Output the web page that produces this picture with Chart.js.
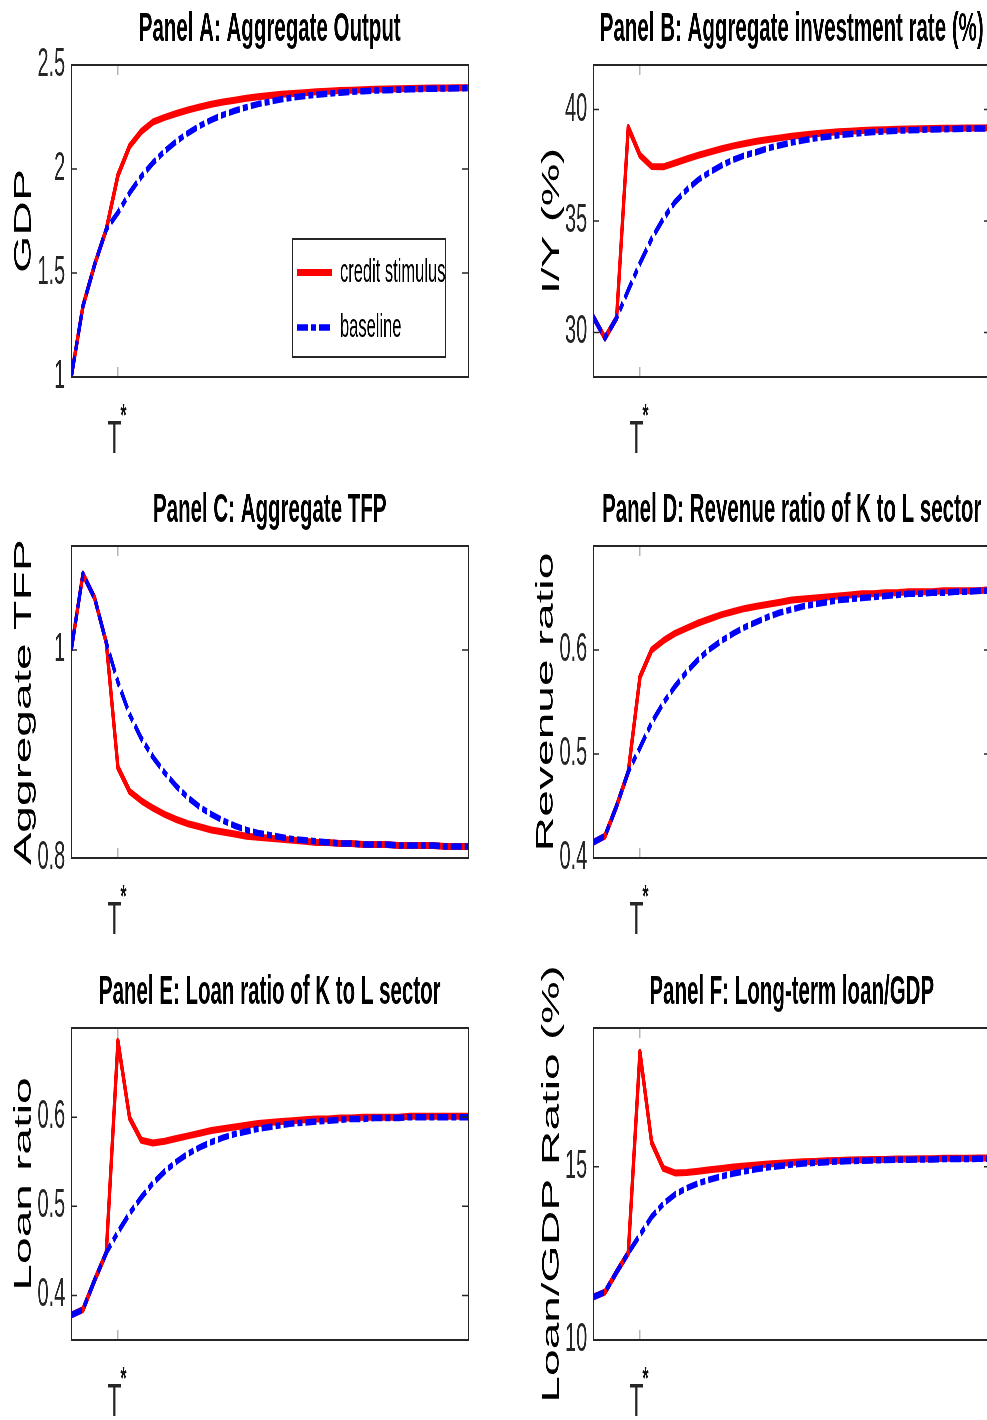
<!DOCTYPE html>
<html lang="en">

<head>
    <meta charset="UTF-8">
    <title>Credit stimulus vs baseline</title>
    <style>
        html,
        body {
            margin: 0;
            padding: 0;
            background: #fff;
            overflow: hidden;
        }

        /* the original figure is squeezed horizontally, so draw wide and squeeze */
        #fig {
            position: relative;
            width: 1974px;
            height: 1420px;
            overflow: hidden;
            transform: scaleX(0.5);
            transform-origin: 0 0;
        }

        #fig canvas {
            position: absolute;
        }
    </style>
</head>

<body>
    <div id="fig">
        <canvas id="panelA" width="987" height="480" style="left:0px;top:0px"></canvas>
        <canvas id="panelB" width="1000" height="480" style="left:987px;top:0px"></canvas>
        <canvas id="panelC" width="987" height="480" style="left:0px;top:481px"></canvas>
        <canvas id="panelD" width="1000" height="480" style="left:987px;top:481px"></canvas>
        <canvas id="panelE" width="987" height="480" style="left:0px;top:963px"></canvas>
        <canvas id="panelF" width="1000" height="480" style="left:987px;top:963px"></canvas>
    </div>
</body>

</html>
<script src="https://cdn.jsdelivr.net/npm/chart.js"></script>
<script>

    // periods and the stimulus date T*
    const periods = [1, 2, 3, 4, 5, 6, 7, 8, 9, 10, 11, 12, 13, 14, 15, 16, 17, 18, 19, 20,
        21, 22, 23, 24, 25, 26, 27, 28, 29, 30, 31, 32, 33, 34, 35];
    const tStar = 5;

    // Panel A: GDP
    const creditA = [1.00, 1.34, 1.54, 1.71, 1.97, 2.11, 2.18, 2.226, 2.248, 2.267, 2.284, 2.298, 2.311, 2.322, 2.331, 2.34, 2.347, 2.353,
        2.359, 2.363, 2.367, 2.371, 2.374, 2.377, 2.379, 2.381, 2.383, 2.385, 2.386, 2.387, 2.388, 2.389, 2.39, 2.391, 2.391];
    const baseA = [1.00, 1.34, 1.54, 1.71, 1.79, 1.885, 1.964, 2.03, 2.086, 2.133, 2.173, 2.207, 2.236, 2.26, 2.28, 2.297, 2.312, 2.324,
        2.335, 2.344, 2.351, 2.357, 2.362, 2.367, 2.371, 2.374, 2.377, 2.379, 2.381, 2.383, 2.385, 2.386, 2.387, 2.388, 2.389];
    const yTicksA = [1, 1.5, 2, 2.5];

    // Panel B: investment rate
    const creditB = [30.7, 29.75, 30.65, 39.2, 37.95, 37.45, 37.43, 37.6, 37.78, 37.95, 38.1, 38.24, 38.37, 38.48, 38.58, 38.66, 38.73, 38.8,
        38.86, 38.91, 38.96, 39.0, 39.03, 39.06, 39.08, 39.1, 39.12, 39.13, 39.14, 39.15, 39.16, 39.16, 39.17, 39.17, 39.18];
    const baseB = [30.7, 29.75, 30.65, 31.9, 33.1, 34.2, 35.1, 35.85, 36.4, 36.85, 37.2, 37.5, 37.75, 37.95, 38.1, 38.27, 38.4, 38.52,
        38.62, 38.71, 38.78, 38.85, 38.9, 38.95, 38.99, 39.02, 39.05, 39.07, 39.09, 39.11, 39.12, 39.13, 39.14, 39.15, 39.16];
    const yTicksB = [30, 35, 40];

    // Panel C: TFP
    const creditC = [1.0, 1.073, 1.05, 1.007, 0.887, 0.864, 0.855, 0.848, 0.842, 0.837, 0.833, 0.83, 0.827, 0.825, 0.823, 0.821, 0.82, 0.819,
        0.818, 0.817, 0.816, 0.815, 0.815, 0.814, 0.814, 0.813, 0.813, 0.813, 0.812, 0.812, 0.812, 0.812, 0.811, 0.811, 0.811];
    const baseC = [1.0, 1.073, 1.05, 1.007, 0.969, 0.938, 0.915, 0.897, 0.882, 0.869, 0.858, 0.849, 0.842, 0.836, 0.831, 0.827, 0.824, 0.822,
        0.82, 0.818, 0.817, 0.816, 0.815, 0.814, 0.814, 0.813, 0.813, 0.813, 0.812, 0.812, 0.812, 0.812, 0.811, 0.811, 0.811];
    const yTicksC = [0.8, 1];

    // Panel D: revenue ratio
    const creditD = [0.415, 0.421, 0.45, 0.483, 0.574, 0.6, 0.609, 0.616, 0.621, 0.626, 0.63, 0.634, 0.637, 0.64, 0.642, 0.644, 0.646, 0.648,
        0.649, 0.65, 0.651, 0.652, 0.653, 0.654, 0.654, 0.655, 0.655, 0.656, 0.656, 0.656, 0.657, 0.657, 0.657, 0.657, 0.658];
    const baseD = [0.415, 0.421, 0.45, 0.483, 0.506, 0.53, 0.549, 0.565, 0.579, 0.591, 0.601, 0.609, 0.616, 0.622, 0.627, 0.632, 0.636, 0.639,
        0.642, 0.644, 0.646, 0.648, 0.649, 0.65, 0.651, 0.652, 0.653, 0.654, 0.654, 0.655, 0.655, 0.656, 0.656, 0.657, 0.657];
    const yTicksD = [0.4, 0.5, 0.6];

    // Panel E: loan ratio
    const creditE = [0.378, 0.384, 0.417, 0.448, 0.685, 0.599, 0.574, 0.571, 0.573, 0.576, 0.579, 0.582, 0.585, 0.587, 0.589, 0.591, 0.593, 0.594,
        0.595, 0.596, 0.597, 0.598, 0.598, 0.599, 0.599, 0.6, 0.6, 0.6, 0.6, 0.601, 0.601, 0.601, 0.601, 0.601, 0.601];
    const baseE = [0.378, 0.384, 0.417, 0.448, 0.471, 0.492, 0.51, 0.526, 0.539, 0.55, 0.559, 0.566, 0.572, 0.577, 0.581, 0.584, 0.587, 0.589,
        0.591, 0.593, 0.594, 0.595, 0.596, 0.597, 0.598, 0.598, 0.599, 0.599, 0.599, 0.6, 0.6, 0.6, 0.6, 0.6, 0.6];
    const yTicksE = [0.4, 0.5, 0.6];

    // Panel F: long-term loan / GDP
    const creditF = [11.24, 11.38, 11.96, 12.51, 18.3, 15.7, 14.95, 14.82, 14.83, 14.87, 14.91, 14.95, 14.99, 15.02, 15.05, 15.08, 15.1, 15.12,
        15.14, 15.15, 15.17, 15.18, 15.19, 15.2, 15.21, 15.21, 15.22, 15.22, 15.23, 15.23, 15.24, 15.24, 15.24, 15.25, 15.25];
    const baseF = [11.24, 11.38, 11.96, 12.51, 13.03, 13.55, 13.93, 14.2, 14.38, 14.52, 14.63, 14.72, 14.8, 14.87, 14.93, 14.98, 15.02, 15.06,
        15.09, 15.11, 15.13, 15.15, 15.16, 15.17, 15.18, 15.19, 15.2, 15.2, 15.21, 15.21, 15.22, 15.22, 15.22, 15.23, 15.23];
    const yTicksF = [10, 15];

    const family = "'Liberation Sans', Arial, Helvetica, sans-serif";
    const axisGray = '#262626';

    // box around the axes, inward ticks, legend frame
    const boxPlugin = {
        id: 'matlabBox',
        afterLayout(chart) {
            const lg = chart.legend;
            if (!lg || !lg.options.display) return;
            const a = chart.chartArea;
            lg.left = a.left + 429;
            lg.right = lg.left + lg.width;
            lg.top = a.top + 169;
            lg.bottom = lg.top + lg.height;
        },
        afterDatasetsDraw(chart) {
            const { ctx, chartArea: a, scales } = chart;
            ctx.save();
            ctx.strokeStyle = axisGray;
            ctx.lineWidth = 1.5;
            ctx.beginPath();
            scales.y.ticks.forEach(t => {
                const py = scales.y.getPixelForValue(t.value);
                ctx.moveTo(a.left, py);
                ctx.lineTo(a.left + 12, py);
                ctx.moveTo(a.right, py);
                ctx.lineTo(a.right - 12, py);
            });
            const px = scales.x.getPixelForValue(tStar);
            ctx.moveTo(px, a.top);
            ctx.lineTo(px, a.top + 10);
            ctx.moveTo(px, a.bottom);
            ctx.lineTo(px, a.bottom - 10);
            ctx.stroke();
            ctx.lineWidth = 2;
            ctx.strokeRect(a.left, a.top, a.right - a.left, a.bottom - a.top);
            if (chart.legend && chart.legend.options.display) {
                ctx.strokeRect(a.left + 442, a.top + 174, 306, 118);
            }
            ctx.restore();
        }
    };

    function legendLabels(chart) {
        const items = Chart.defaults.plugins.legend.labels.generateLabels(chart);
        return items.map(item => {
            const ds = chart.data.datasets[item.datasetIndex];
            item.lineWidth = ds.borderWidth;
            item.lineDash = ds.borderDash || [];
            item.pointStyle = 'line';
            return item;
        });
    }

    function makePanel(id, p) {
        new Chart(document.getElementById(id), {
            type: 'line',
            data: {
                labels: periods,
                datasets: [{
                    label: 'credit stimulus',
                    data: p.credit,
                    borderColor: '#ff0000',
                    borderWidth: 7,
                    order: 1
                }, {
                    label: 'baseline',
                    data: p.base,
                    borderColor: '#0000ff',
                    borderWidth: 6.5,
                    borderDash: [22, 6, 10, 6],
                    order: 0
                }]
            },
            options: {
                responsive: false,
                animation: false,
                events: [],
                layout: {
                    autoPadding: false,
                    padding: { left: 0, right: p.padRight, top: 0, bottom: 10 }
                },
                elements: {
                    point: { radius: 0 },
                    line: { tension: 0, fill: false, borderJoinStyle: 'round', borderCapStyle: 'butt' }
                },
                plugins: {
                    title: {
                        display: true,
                        text: p.title,
                        fullSize: false,
                        color: '#000',
                        font: { family: family, size: 41, weight: 'bold' },
                        padding: { top: 5, bottom: 10.8 }
                    },
                    legend: p.legend ? {
                        display: true,
                        position: 'chartArea',
                        align: 'start',
                        labels: {
                            usePointStyle: true,
                            pointStyle: 'line',
                            pointStyleWidth: 70,
                            color: '#000',
                            padding: 22,
                            font: { family: family, size: 33 },
                            generateLabels: legendLabels,
                            sort: (a, b) => a.datasetIndex - b.datasetIndex
                        }
                    } : { display: false },
                    tooltip: { enabled: false }
                },
                scales: {
                    // the asterisk of T* (labels are clipped to the axis box, so keep it tall enough)
                    x: {
                        type: 'linear',
                        position: 'bottom',
                        min: 1,
                        max: 35,
                        weight: 0,
                        afterBuildTicks: s => { s.ticks = [{ value: tStar }]; },
                        afterFit: s => { s.height = 42; },
                        grid: { display: false, drawTicks: false },
                        border: { display: false },
                        ticks: {
                            callback: () => '*',
                            color: '#111',
                            font: { family: family, size: 32, weight: 'bold' },
                            padding: 21,
                            labelOffset: 11,
                            maxRotation: 0,
                            autoSkip: false
                        }
                    },
                    xT: {
                        type: 'linear',
                        position: 'bottom',
                        min: 1,
                        max: 35,
                        weight: 1,
                        afterBuildTicks: s => { s.ticks = [{ value: tStar }]; },
                        afterFit: s => { s.height = 51; },
                        grid: { display: false, drawTicks: false },
                        border: { display: false },
                        ticks: {
                            callback: () => 'T',
                            color: axisGray,
                            font: { family: family, size: 46 },
                            padding: -6,
                            labelOffset: -7,
                            maxRotation: 0,
                            autoSkip: false
                        }
                    },
                    y: {
                        min: p.yMin,
                        max: p.yMax,
                        afterBuildTicks: s => { s.ticks = p.yTicks.map(v => ({ value: v })); },
                        afterFit: s => { s.width = p.yWidth; },
                        grid: { display: false, drawTicks: false },
                        border: { display: false },
                        ticks: {
                            callback: v => String(v),
                            color: axisGray,
                            font: { family: family, size: 40 },
                            padding: 12
                        },
                        title: {
                            display: true,
                            text: p.yTitle,
                            color: '#000',
                            font: { family: family, size: 48 },
                            padding: { top: p.yTitlePad, bottom: 0 }
                        }
                    }
                }
            },
            plugins: [boxPlugin]
        });
    }

    makePanel('panelA', {
        title: 'Panel A: Aggregate Output', yTitle: 'GDP', credit: creditA, base: baseA,
        yMin: 1, yMax: 2.5, yTicks: yTicksA, yWidth: 142, yTitlePad: 19, padRight: 51, legend: true
    });
    makePanel('panelB', {
        title: 'Panel B: Aggregate investment rate (%)', yTitle: 'I/Y (%)', credit: creditB, base: baseB,
        yMin: 28, yMax: 42, yTicks: yTicksB, yWidth: 199, yTitlePad: 88, padRight: 7, legend: false
    });
    makePanel('panelC', {
        title: 'Panel C: Aggregate TFP', yTitle: 'Aggregate TFP', credit: creditC, base: baseC,
        yMin: 0.8, yMax: 1.1, yTicks: yTicksC, yWidth: 142, yTitlePad: 19, padRight: 51, legend: false
    });
    makePanel('panelD', {
        title: 'Panel D: Revenue ratio of K to L sector', yTitle: 'Revenue ratio', credit: creditD, base: baseD,
        yMin: 0.4, yMax: 0.7, yTicks: yTicksD, yWidth: 199, yTitlePad: 76, padRight: 7, legend: false
    });
    makePanel('panelE', {
        title: 'Panel E: Loan ratio of K to L sector', yTitle: 'Loan ratio', credit: creditE, base: baseE,
        yMin: 0.35, yMax: 0.7, yTicks: yTicksE, yWidth: 142, yTitlePad: 19, padRight: 51, legend: false
    });
    makePanel('panelF', {
        title: 'Panel F: Long-term loan/GDP', yTitle: 'Loan/GDP Ratio (%)', credit: creditF, base: baseF,
        yMin: 10, yMax: 19, yTicks: yTicksF, yWidth: 199, yTitlePad: 88, padRight: 7, legend: false
    });
</script>
